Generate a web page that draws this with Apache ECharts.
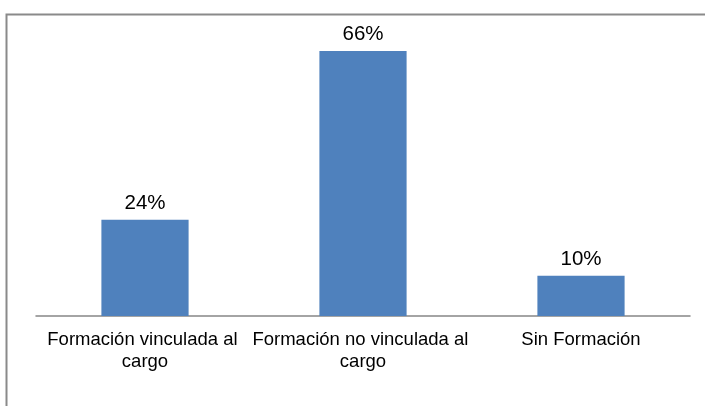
<!DOCTYPE html>
<html>
<head>
<meta charset="utf-8">
<script src="https://cdn.jsdelivr.net/npm/echarts@6/dist/echarts.min.js"></script>
<style>
  html, body { margin: 0; padding: 0; background: #ffffff; }
  #chart { width: 705px; height: 406px; }
</style>
</head>
<body>
<div id="chart"></div>
<script>
// Share of staff by type of training
const categories = ['Formación vinculada al cargo', 'Formación no vinculada al cargo', 'Sin Formación'];
const shares = [24, 66, 10];

const chart = echarts.init(document.getElementById('chart'), null, { renderer: 'canvas' });

chart.setOption({
  animation: false,
  backgroundColor: '#ffffff',
  textStyle: { fontFamily: 'Liberation Sans, Arial, sans-serif' },
  graphic: [{
    type: 'rect',
    silent: true,
    shape: { x: 6.5, y: 14.5, width: 800, height: 500 },
    style: { fill: 'none', stroke: '#8a8a8a', lineWidth: 2 }
  }],
  grid: { left: 36, right: 15, top: 35, bottom: 90, containLabel: false },
  xAxis: {
    type: 'category',
    data: categories,
    axisLine: { show: true, lineStyle: { color: '#868686', width: 1.5 } },
    axisTick: { show: false },
    axisLabel: {
      interval: 0,
      margin: 13,
      color: '#000000',
      fontSize: 18.5,
      lineHeight: 22,
      width: 234,
      overflow: 'break',
      fontFamily: 'Liberation Sans, Arial, sans-serif'
    }
  },
  yAxis: {
    type: 'value',
    min: 0,
    max: 70,
    show: false,
    splitLine: { show: false }
  },
  series: [{
    type: 'bar',
    data: shares,
    barWidth: '40%',
    itemStyle: { color: '#4f81bd' },
    label: {
      show: true,
      position: 'top',
      distance: 6,
      formatter: '{c}%',
      color: '#000000',
      fontSize: 20.5,
      fontFamily: 'Liberation Sans, Arial, sans-serif'
    }
  }]
});
</script>
</body>
</html>
